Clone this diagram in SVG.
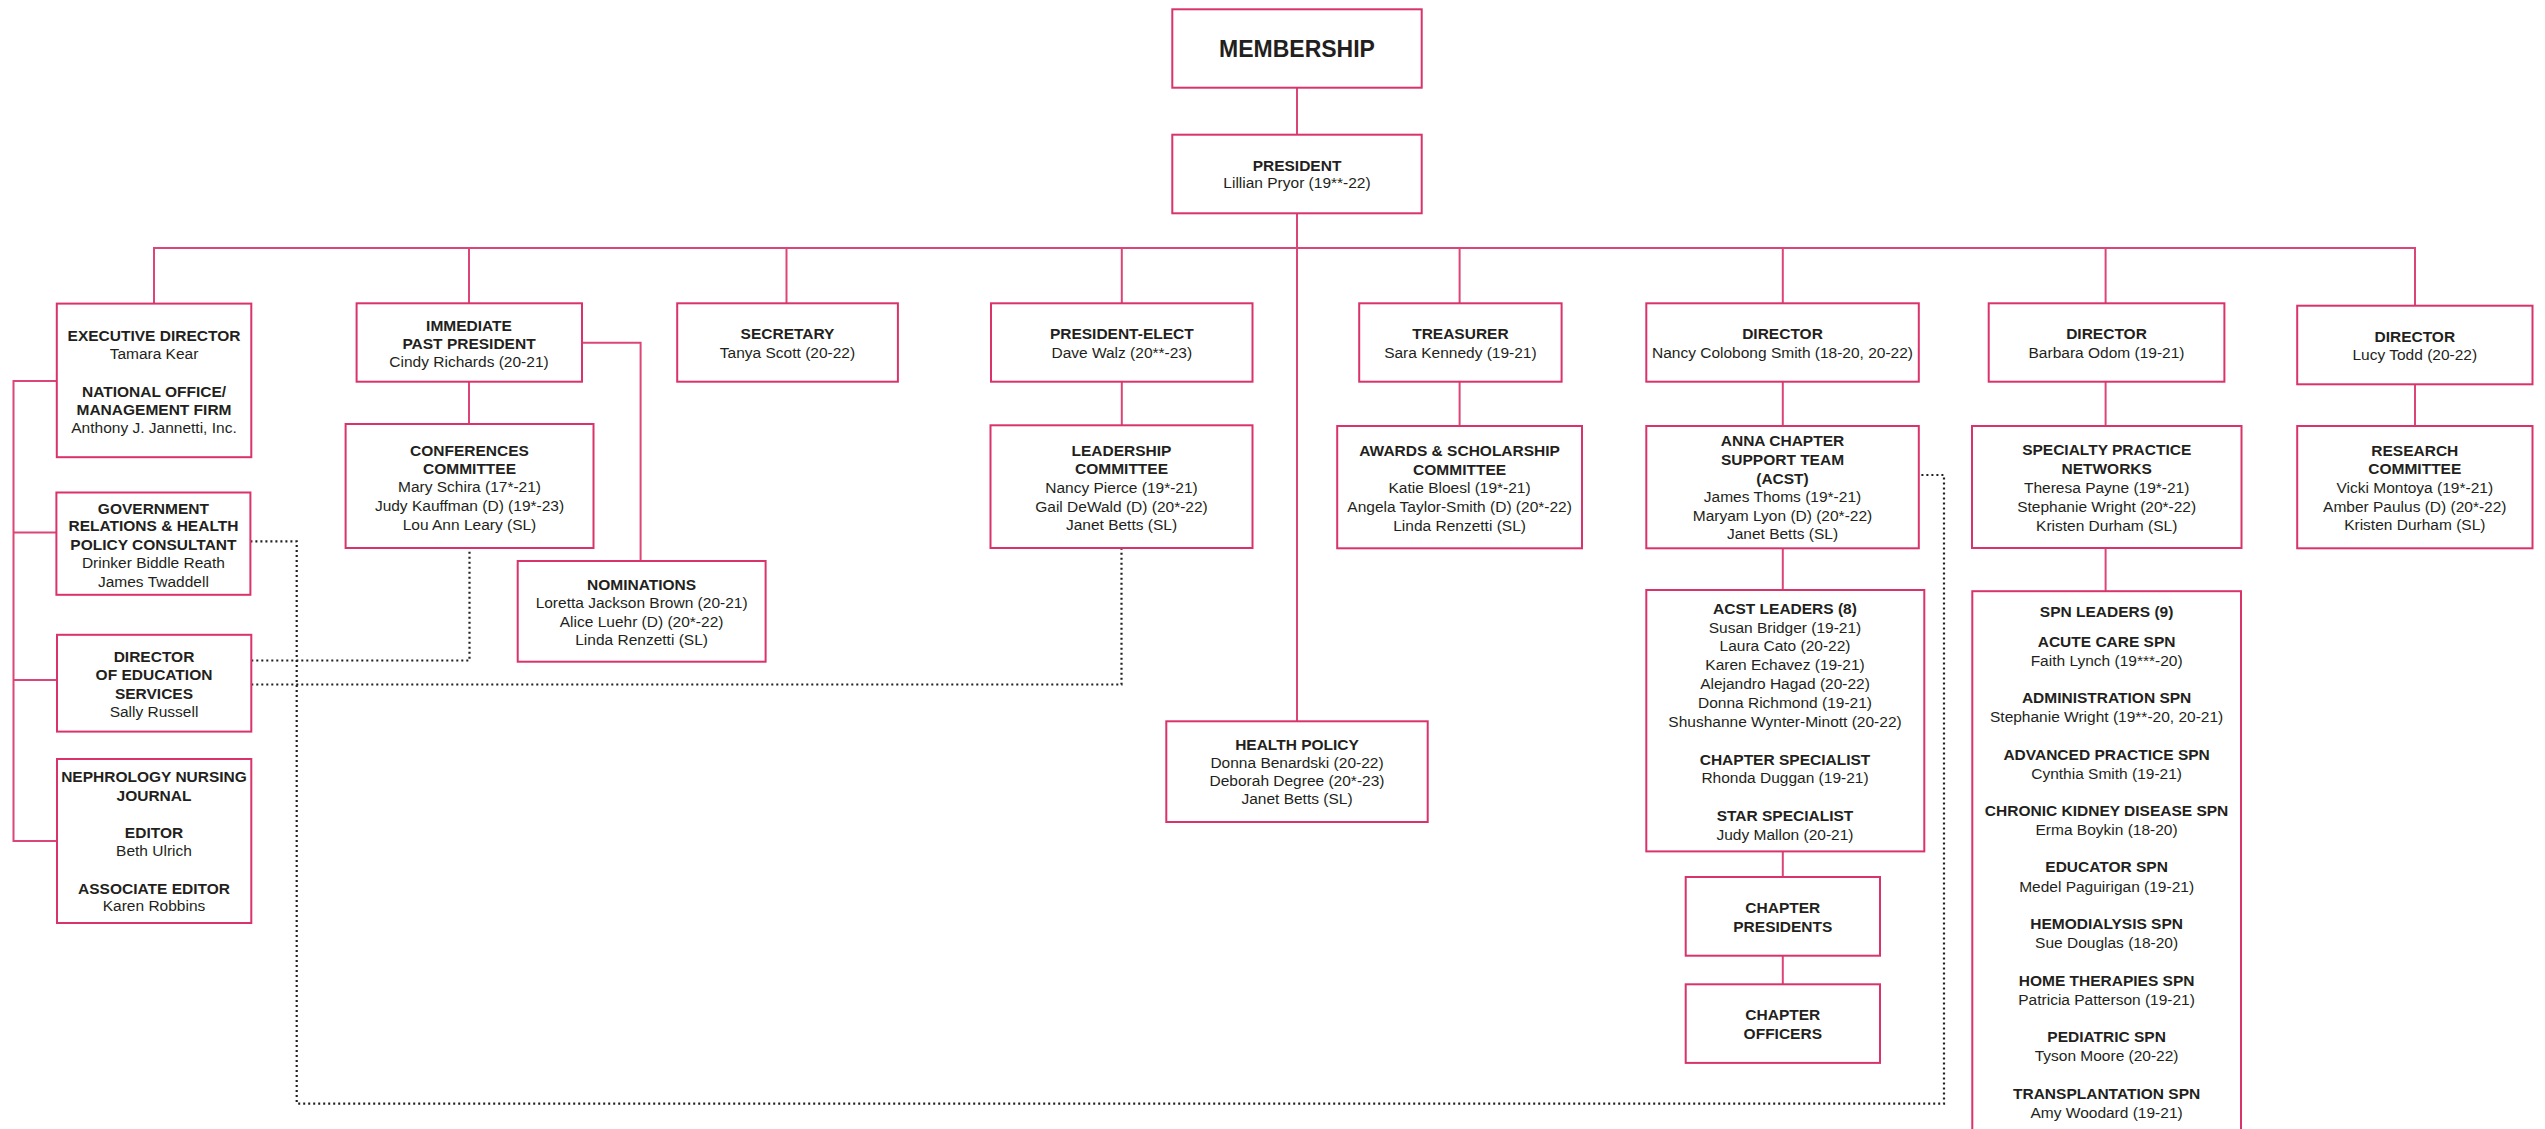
<svg xmlns="http://www.w3.org/2000/svg" width="2545" height="1129" viewBox="0 0 2545 1129">
<style>
.box{fill:#ffffff;stroke:#d9336a;stroke-width:2}
.ln{fill:none;stroke:#dc4677;stroke-width:2}
.dot{fill:none;stroke:#231f20;stroke-width:2.2;stroke-dasharray:2 3}
text{font-family:"Liberation Sans",Arial,Helvetica,sans-serif;font-size:15.5px;fill:#231f20;text-anchor:middle}
.b{font-weight:bold}
.big{font-weight:bold;font-size:23px}
</style>
<rect width="2545" height="1129" fill="#ffffff"/>
<g id="connectors">
<line class="ln" x1="1297" y1="87.7" x2="1297" y2="134.7"/>
<line class="ln" x1="1297" y1="213.3" x2="1297" y2="721.3"/>
<polyline class="ln" points="154,303.6 154,248 2415,248 2415,305.7"/>
<line class="ln" x1="469" y1="248" x2="469" y2="303.3"/>
<line class="ln" x1="786.5" y1="248" x2="786.5" y2="303.3"/>
<line class="ln" x1="1121.8" y1="248" x2="1121.8" y2="303.3"/>
<line class="ln" x1="1459.6" y1="248" x2="1459.6" y2="303.3"/>
<line class="ln" x1="1782.8" y1="248" x2="1782.8" y2="303.3"/>
<line class="ln" x1="2105.6" y1="248" x2="2105.6" y2="303.3"/>
<line class="ln" x1="469" y1="381.7" x2="469" y2="424"/>
<polyline class="ln" points="582,342.7 640.6,342.7 640.6,561"/>
<line class="ln" x1="1121.8" y1="381.7" x2="1121.8" y2="425.3"/>
<line class="ln" x1="1459.6" y1="381.7" x2="1459.6" y2="426"/>
<line class="ln" x1="1782.8" y1="381.7" x2="1782.8" y2="426"/>
<line class="ln" x1="1782.8" y1="548.3" x2="1782.8" y2="590"/>
<line class="ln" x1="1782.8" y1="851.4" x2="1782.8" y2="877"/>
<line class="ln" x1="1782.8" y1="955.7" x2="1782.8" y2="984.3"/>
<line class="ln" x1="2105.6" y1="381.7" x2="2105.6" y2="426"/>
<line class="ln" x1="2105.6" y1="548" x2="2105.6" y2="591.2"/>
<line class="ln" x1="2415" y1="384.3" x2="2415" y2="426"/>
<polyline class="ln" points="56.8,381 13.5,381 13.5,841 45,841"/>
<line class="ln" x1="13.5" y1="532.5" x2="56.4" y2="532.5"/>
<line class="ln" x1="13.5" y1="680" x2="57" y2="680"/>
<line class="ln" x1="13.5" y1="841" x2="57" y2="841"/>
<polyline class="dot" points="250.4,541.4 296.7,541.4 296.7,1103.6 1944,1103.6 1944,475 1918.8,475"/>
<polyline class="dot" points="251.3,660.5 469.5,660.5 469.5,548"/>
<polyline class="dot" points="251.3,684.5 1121.5,684.5 1121.5,548"/>
</g>
<g id="membership">
<rect class="box" x="1172.3" y="9.3" width="249.4" height="78.4"/>
<text class="big" x="1297" y="56.7">MEMBERSHIP</text>
</g>
<g id="president">
<rect class="box" x="1172.3" y="134.7" width="249.4" height="78.6"/>
<text class="b" x="1297" y="170.7">PRESIDENT</text>
<text x="1297" y="188.3">Lillian Pryor (19**-22)</text>
</g>
<g id="executive-director">
<rect class="box" x="56.8" y="303.6" width="194.5" height="153.6"/>
<text class="b" x="154" y="341">EXECUTIVE DIRECTOR</text>
<text x="154" y="358.7">Tamara Kear</text>
<text class="b" x="154" y="397">NATIONAL OFFICE/</text>
<text class="b" x="154" y="414.7">MANAGEMENT FIRM</text>
<text x="154" y="432.8">Anthony J. Jannetti, Inc.</text>
</g>
<g id="government-relations">
<rect class="box" x="56.4" y="492.5" width="194" height="102.3"/>
<text class="b" x="153.4" y="513.6">GOVERNMENT</text>
<text class="b" x="153.4" y="531.3">RELATIONS &amp; HEALTH</text>
<text class="b" x="153.4" y="550.2">POLICY CONSULTANT</text>
<text x="153.4" y="568.3">Drinker Biddle Reath</text>
<text x="153.4" y="587.2">James Twaddell</text>
</g>
<g id="director-education">
<rect class="box" x="57" y="634.8" width="194.3" height="96.8"/>
<text class="b" x="154" y="661.7">DIRECTOR</text>
<text class="b" x="154" y="679.8">OF EDUCATION</text>
<text class="b" x="154" y="698.8">SERVICES</text>
<text x="154" y="716.9">Sally Russell</text>
</g>
<g id="nephrology-nursing-journal">
<rect class="box" x="57" y="759" width="194.3" height="164"/>
<text class="b" x="154" y="782">NEPHROLOGY NURSING</text>
<text class="b" x="154" y="801">JOURNAL</text>
<text class="b" x="154" y="837.7">EDITOR</text>
<text x="154" y="855.8">Beth Ulrich</text>
<text class="b" x="154" y="893.6">ASSOCIATE EDITOR</text>
<text x="154" y="911.3">Karen Robbins</text>
</g>
<g id="immediate-past-president">
<rect class="box" x="356.6" y="303.3" width="225.4" height="78.4"/>
<text class="b" x="469" y="330.5">IMMEDIATE</text>
<text class="b" x="469" y="349">PAST PRESIDENT</text>
<text x="469" y="367">Cindy Richards (20-21)</text>
</g>
<g id="conferences-committee">
<rect class="box" x="345.6" y="424" width="247.9" height="124"/>
<text class="b" x="469.5" y="455.5">CONFERENCES</text>
<text class="b" x="469.5" y="473.5">COMMITTEE</text>
<text x="469.5" y="492.4">Mary Schira (17*-21)</text>
<text x="469.5" y="511">Judy Kauffman (D) (19*-23)</text>
<text x="469.5" y="529.5">Lou Ann Leary (SL)</text>
</g>
<g id="nominations">
<rect class="box" x="517.7" y="561" width="247.9" height="100.7"/>
<text class="b" x="641.6" y="590">NOMINATIONS</text>
<text x="641.6" y="608.3">Loretta Jackson Brown (20-21)</text>
<text x="641.6" y="626.7">Alice Luehr (D) (20*-22)</text>
<text x="641.6" y="645">Linda Renzetti (SL)</text>
</g>
<g id="secretary">
<rect class="box" x="677.2" y="303.3" width="220.7" height="78.4"/>
<text class="b" x="787.5" y="339.3">SECRETARY</text>
<text x="787.5" y="358.3">Tanya Scott (20-22)</text>
</g>
<g id="president-elect">
<rect class="box" x="991" y="303.3" width="261.5" height="78.4"/>
<text class="b" x="1121.8" y="339.3">PRESIDENT-ELECT</text>
<text x="1121.8" y="358.3">Dave Walz (20**-23)</text>
</g>
<g id="leadership-committee">
<rect class="box" x="990.5" y="425.3" width="262" height="122.7"/>
<text class="b" x="1121.5" y="456">LEADERSHIP</text>
<text class="b" x="1121.5" y="474.3">COMMITTEE</text>
<text x="1121.5" y="493.3">Nancy Pierce (19*-21)</text>
<text x="1121.5" y="511.7">Gail DeWald (D) (20*-22)</text>
<text x="1121.5" y="530">Janet Betts (SL)</text>
</g>
<g id="health-policy">
<rect class="box" x="1166.3" y="721.3" width="261.4" height="100.7"/>
<text class="b" x="1297" y="750">HEALTH POLICY</text>
<text x="1297" y="767.7">Donna Benardski (20-22)</text>
<text x="1297" y="786">Deborah Degree (20*-23)</text>
<text x="1297" y="804.3">Janet Betts (SL)</text>
</g>
<g id="treasurer">
<rect class="box" x="1359.2" y="303.3" width="202.4" height="78.4"/>
<text class="b" x="1460.4" y="339.3">TREASURER</text>
<text x="1460.4" y="358.3">Sara Kennedy (19-21)</text>
</g>
<g id="awards-scholarship">
<rect class="box" x="1337.2" y="426" width="244.8" height="122.3"/>
<text class="b" x="1459.6" y="456">AWARDS &amp; SCHOLARSHIP</text>
<text class="b" x="1459.6" y="475">COMMITTEE</text>
<text x="1459.6" y="493.3">Katie Bloesl (19*-21)</text>
<text x="1459.6" y="512.3">Angela Taylor-Smith (D) (20*-22)</text>
<text x="1459.6" y="530.7">Linda Renzetti (SL)</text>
</g>
<g id="director-smith">
<rect class="box" x="1646.3" y="303.3" width="272.5" height="78.4"/>
<text class="b" x="1782.5" y="339.3">DIRECTOR</text>
<text x="1782.5" y="358.3">Nancy Colobong Smith (18-20, 20-22)</text>
</g>
<g id="acst">
<rect class="box" x="1646.3" y="426" width="272.5" height="122.3"/>
<text class="b" x="1782.5" y="446">ANNA CHAPTER</text>
<text class="b" x="1782.5" y="465">SUPPORT TEAM</text>
<text class="b" x="1782.5" y="483.5">(ACST)</text>
<text x="1782.5" y="502">James Thoms (19*-21)</text>
<text x="1782.5" y="520.7">Maryam Lyon (D) (20*-22)</text>
<text x="1782.5" y="539.3">Janet Betts (SL)</text>
</g>
<g id="acst-leaders">
<rect class="box" x="1646.3" y="590" width="278" height="261.4"/>
<text class="b" x="1785" y="613.6">ACST LEADERS (8)</text>
<text x="1785" y="632.5">Susan Bridger (19-21)</text>
<text x="1785" y="651.4">Laura Cato (20-22)</text>
<text x="1785" y="670.4">Karen Echavez (19-21)</text>
<text x="1785" y="689.3">Alejandro Hagad (20-22)</text>
<text x="1785" y="708.2">Donna Richmond (19-21)</text>
<text x="1785" y="727.1">Shushanne Wynter-Minott (20-22)</text>
<text class="b" x="1785" y="764.6">CHAPTER SPECIALIST</text>
<text x="1785" y="783.2">Rhonda Duggan (19-21)</text>
<text class="b" x="1785" y="821">STAR SPECIALIST</text>
<text x="1785" y="839.6">Judy Mallon (20-21)</text>
</g>
<g id="chapter-presidents">
<rect class="box" x="1685.7" y="877" width="194.3" height="78.7"/>
<text class="b" x="1782.8" y="912.9">CHAPTER</text>
<text class="b" x="1782.8" y="932">PRESIDENTS</text>
</g>
<g id="chapter-officers">
<rect class="box" x="1685.7" y="984.3" width="194.3" height="78.6"/>
<text class="b" x="1782.8" y="1020">CHAPTER</text>
<text class="b" x="1782.8" y="1039.3">OFFICERS</text>
</g>
<g id="director-odom">
<rect class="box" x="1988.7" y="303.3" width="235.7" height="78.4"/>
<text class="b" x="2106.5" y="339.3">DIRECTOR</text>
<text x="2106.5" y="358.3">Barbara Odom (19-21)</text>
</g>
<g id="specialty-practice-networks">
<rect class="box" x="1972" y="426" width="269.5" height="122"/>
<text class="b" x="2106.7" y="455">SPECIALTY PRACTICE</text>
<text class="b" x="2106.7" y="474">NETWORKS</text>
<text x="2106.7" y="492.7">Theresa Payne (19*-21)</text>
<text x="2106.7" y="511.7">Stephanie Wright (20*-22)</text>
<text x="2106.7" y="530.7">Kristen Durham (SL)</text>
</g>
<g id="spn-leaders">
<rect class="box" x="1972.3" y="591.2" width="268.7" height="560"/>
<text class="b" x="2106.6" y="616.8">SPN LEADERS (9)</text>
<text class="b" x="2106.6" y="646.5">ACUTE CARE SPN</text>
<text x="2106.6" y="665.8">Faith Lynch (19***-20)</text>
<text class="b" x="2106.6" y="702.5">ADMINISTRATION SPN</text>
<text x="2106.6" y="721.8">Stephanie Wright (19**-20, 20-21)</text>
<text class="b" x="2106.6" y="759.6">ADVANCED PRACTICE SPN</text>
<text x="2106.6" y="778.5">Cynthia Smith (19-21)</text>
<text class="b" x="2106.6" y="815.6">CHRONIC KIDNEY DISEASE SPN</text>
<text x="2106.6" y="834.9">Erma Boykin (18-20)</text>
<text class="b" x="2106.6" y="872.4">EDUCATOR SPN</text>
<text x="2106.6" y="891.6">Medel Paguirigan (19-21)</text>
<text class="b" x="2106.6" y="929.4">HEMODIALYSIS SPN</text>
<text x="2106.6" y="948.3">Sue Douglas (18-20)</text>
<text class="b" x="2106.6" y="985.5">HOME THERAPIES SPN</text>
<text x="2106.6" y="1004.7">Patricia Patterson (19-21)</text>
<text class="b" x="2106.6" y="1042.2">PEDIATRIC SPN</text>
<text x="2106.6" y="1061.4">Tyson Moore (20-22)</text>
<text class="b" x="2106.6" y="1098.9">TRANSPLANTATION SPN</text>
<text x="2106.6" y="1118.2">Amy Woodard (19-21)</text>
</g>
<g id="director-todd">
<rect class="box" x="2297.2" y="305.7" width="235.3" height="78.6"/>
<text class="b" x="2414.8" y="342.3">DIRECTOR</text>
<text x="2414.8" y="360.3">Lucy Todd (20-22)</text>
</g>
<g id="research-committee">
<rect class="box" x="2297.2" y="426" width="235.3" height="122.3"/>
<text class="b" x="2414.8" y="456">RESEARCH</text>
<text class="b" x="2414.8" y="474.3">COMMITTEE</text>
<text x="2414.8" y="493.3">Vicki Montoya (19*-21)</text>
<text x="2414.8" y="512.3">Amber Paulus (D) (20*-22)</text>
<text x="2414.8" y="530">Kristen Durham (SL)</text>
</g>
</svg>
